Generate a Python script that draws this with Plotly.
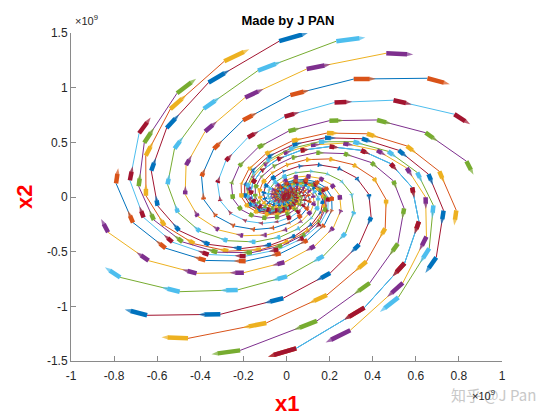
import numpy as np
import plotly.graph_objects as go

# MATLAB default colour order (lines consume one colour, quiver the next)
COLORS = ["#0072BD", "#D95319", "#EDB120", "#7E2F8E", "#77AC30", "#4DBEEE", "#A2142F"]

# Outermost (final) state of each trajectory (units of 1e9),
# listed counter-clockwise starting from the bottom
end_x = [0.045, 0.296, 0.519, 0.695, 0.788, 0.835, 0.779, 0.654, 0.463, 0.231,
         -0.034, -0.289, -0.508, -0.684, -0.791, -0.828, -0.772, -0.647, -0.457, -0.215]
end_y = [-1.384, -1.219, -0.918, -0.552, -0.122, 0.327, 0.757, 1.086, 1.315, 1.425,
         1.425, 1.241, 0.949, 0.583, 0.125, -0.323, -0.735, -1.082, -1.293, -1.403]

# one-step map estimated from consecutive points of the drawn trajectories
step_matrix = [[1.007, 0.315],
               [-0.558, 1.168]]

N_TRAJ = 21          # the 21st trajectory repeats the first start angle
N_STEPS = 45         # steps visible per trajectory
ARROW_SCALE = 0.3

x_ticks = [-1, -0.8, -0.6, -0.4, -0.2, 0, 0.2, 0.4, 0.6, 0.8, 1]
x_ticktext = ["-1", "-0.8", "-0.6", "-0.4", "-0.2", "0", "0.2", "0.4", "0.6", "0.8", "1"]
y_ticks = [-1.5, -1, -0.5, 0, 0.5, 1, 1.5]
y_ticktext = ["-1.5", "-1", "-0.5", "0", "0.5", "1", "1.5"]

A = np.array(step_matrix)
Ainv = np.linalg.inv(A)
I2 = np.eye(2)

PX_X = 431 / 2.0
PX_Y = 328 / 3.0

fig = go.Figure()
for k in range(N_TRAJ):
    m = k % len(end_x)
    p = np.array([end_x[m], end_y[m]])
    pts = [p]
    for _ in range(N_STEPS):
        pts.append(Ainv @ pts[-1])
    pts = np.array(pts[::-1])
    line_col = COLORS[(2 * k) % 7]
    arr_col = COLORS[(2 * k + 1) % 7]
    fig.add_trace(go.Scatter(x=pts[:, 0], y=pts[:, 1], mode="lines",
                             line=dict(color=line_col, width=1), hoverinfo="skip",
                             showlegend=False))
    ax, ay, sizes, syms = [], [], [], []
    for q in pts:
        d = (A - I2) @ q * ARROW_SCALE
        tip = q + d
        lpx = np.hypot(d[0] * PX_X, d[1] * PX_Y)
        ax += [q[0], tip[0], None]
        ay += [q[1], tip[1], None]
        sizes += [4.5, min(7, 4.5 + 0.12 * lpx), 0]
        syms += ["circle", "arrow", "circle"]
    fig.add_trace(go.Scatter(x=ax, y=ay, mode="lines+markers",
                             line=dict(color=arr_col, width=4.5),
                             marker=dict(color=arr_col, size=sizes, symbol=syms,
                                         angleref="previous", line=dict(width=0)),
                             hoverinfo="skip", showlegend=False, connectgaps=False))

axis_common = dict(showgrid=False, zeroline=False, showline=True, linecolor="#8a8a8a",
                   linewidth=1, ticks="inside", ticklen=5, tickcolor="#8a8a8a",
                   tickfont=dict(family="Liberation Sans, Arial", size=12, color="#262626"),
                   mirror=False)
fig.update_xaxes(range=[-1, 1], tickvals=x_ticks, ticktext=x_ticktext,
                 ticklabelstandoff=4, **axis_common)
fig.update_yaxes(range=[-1.5, 1.5], tickvals=y_ticks, ticktext=y_ticktext, **axis_common)

fig.update_layout(
    width=554, height=415,
    margin=dict(l=71, r=52, t=33, b=54),
    plot_bgcolor="white", paper_bgcolor="white",
    title=dict(text="<b>Made by J PAN</b>", x=288 / 554, xanchor="center",
               y=1 - 20 / 415, yanchor="middle",
               font=dict(family="Liberation Sans, Arial", size=13, color="black")),
    annotations=[
        dict(text="<b>x1</b>", xref="paper", yref="paper", x=0.5, y=-0.131,
             xanchor="center", yanchor="middle", showarrow=False,
             font=dict(family="Liberation Sans, Arial", size=22, color="#ff0000")),
        dict(text="<b>x2</b>", xref="paper", yref="paper", x=-0.109, y=0.5,
             xanchor="center", yanchor="middle", showarrow=False, textangle=-90,
             font=dict(family="Liberation Sans, Arial", size=22, color="#ff0000")),
        dict(text="×10<sup>9</sup>", xref="paper", yref="paper", x=0.004, y=1.012,
             xanchor="left", yanchor="bottom", showarrow=False,
             font=dict(family="Liberation Sans, Arial", size=11, color="#262626")),
        dict(text="知乎 @J Pan", xref="paper", yref="paper", x=1.083, y=-0.102,
             xanchor="right", yanchor="middle", showarrow=False,
             font=dict(family="Noto Sans CJK SC", size=15, color="#c8c8c8")),
        dict(text="×10<sup>9</sup>", xref="paper", yref="paper", x=0.926, y=-0.075,
             xanchor="left", yanchor="top", showarrow=False,
             font=dict(family="Liberation Sans, Arial", size=11, color="#262626")),
    ],
)

fig.write_html("out.html", config={"displayModeBar": False},
               post_script="document.body.style.margin='0';")
